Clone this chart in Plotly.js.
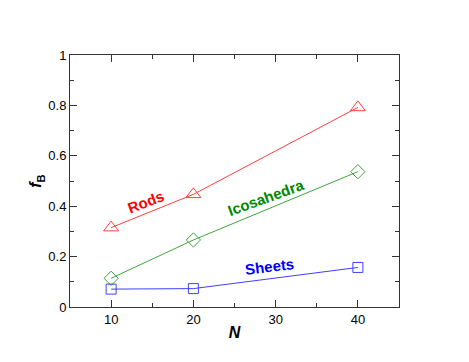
<!DOCTYPE html>
<html>
<head>
<meta charset="utf-8">
<script src="https://cdn.plot.ly/plotly-3.0.1.min.js"></script>
<style>
  html, body { margin: 0; padding: 0; background: #fff; }
  #chart { width: 469px; height: 362px; }
</style>
</head>
<body>
<div id="chart"></div>
<script>
// data
const N = [10, 20, 40];
const rods = [0.315, 0.447, 0.792];
const icosahedra = [0.114, 0.266, 0.537];
const sheets = [0.071, 0.073, 0.157];

const labels = ["Rods", "Icosahedra", "Sheets"];
const labelX = [14.3, 28.8, 29.2];
const labelY = [0.418, 0.435, 0.16];
const labelAngle = [-21, -20, -7];
const colors = ["#ff0000", "#008800", "#0000ff"];

function series(y, color, symbol, size) {
  return {
    x: N,
    y: y,
    type: "scatter",
    mode: "lines+markers",
    line: { color: color, width: 1 },
    marker: { symbol: symbol, size: size, color: color, line: { width: 1, color: color } },
    opacity: 0.75,
    showlegend: false,
  };
}

const axisBase = {
  showline: true,
  mirror: "ticks",
  linecolor: "#333",
  linewidth: 1,
  ticks: "inside",
  ticklen: 7,
  tickcolor: "#333",
  showgrid: false,
  zeroline: false,
  tickfont: { family: "Liberation Sans, Arial, sans-serif", size: 13, color: "#000" },
  minor: { ticks: "inside", ticklen: 4, tickcolor: "#333" },
};

Plotly.newPlot(
  "chart",
  [
    series(rods, colors[0], "triangle-up-open", 13),
    series(icosahedra, colors[1], "diamond-open", 11),
    series(sheets, colors[2], "square-open", 10),
  ],
  {
    width: 469,
    height: 362,
    margin: { l: 70, r: 70, t: 55, b: 55 },
    paper_bgcolor: "#fff",
    plot_bgcolor: "#fff",
    xaxis: Object.assign({}, axisBase, {
      range: [5, 45],
      dtick: 10,
      tick0: 0,
      minor: Object.assign({}, axisBase.minor, { dtick: 5 }),
      title: {
        text: "<b><i>N</i></b>",
        font: { family: "Liberation Sans, Arial, sans-serif", size: 16, color: "#000" },
        standoff: 1,
      },
    }),
    yaxis: Object.assign({}, axisBase, {
      range: [0, 1],
      dtick: 0.2,
      minor: Object.assign({}, axisBase.minor, { dtick: 0.1 }),
      title: {
        text: "<b><i>f</i><sub>B</sub></b>",
        font: { family: "Liberation Sans, Arial, sans-serif", size: 16, color: "#000" },
        standoff: 2,
      },
    }),
    annotations: labels.map((t, i) => ({
      x: labelX[i],
      y: labelY[i],
      text: "<b>" + t + "</b>",
      showarrow: false,
      textangle: labelAngle[i],
      font: { family: "Liberation Sans, Arial, sans-serif", size: 15, color: colors[i] },
    })),
  },
  { displayModeBar: false, staticPlot: true }
);
</script>
</body>
</html>
